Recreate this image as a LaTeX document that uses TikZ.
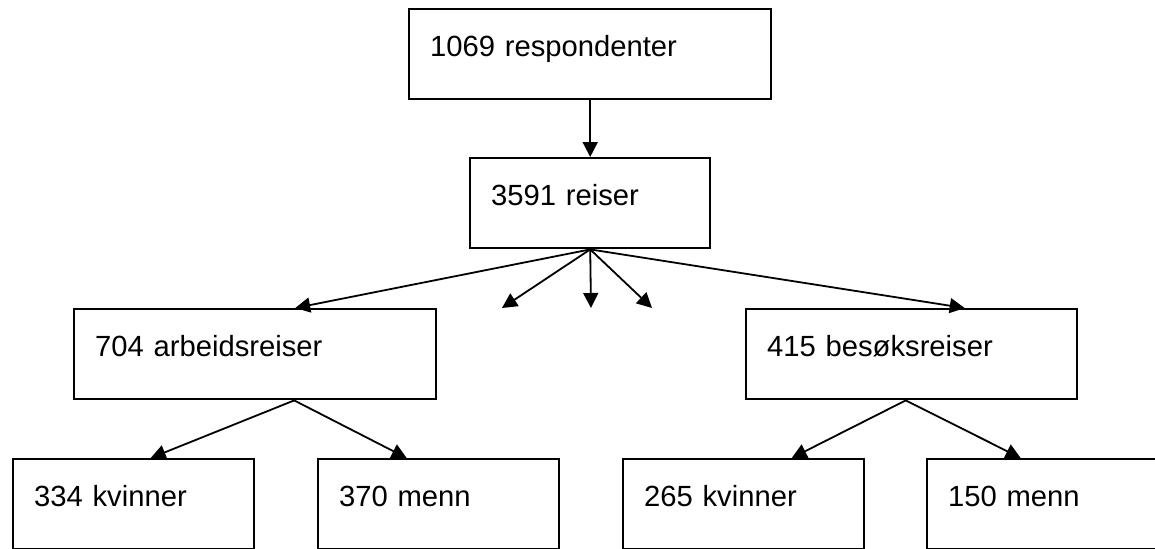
\documentclass[tikz,border=0pt]{standalone}
\usepackage{fontspec}
\setmainfont{Liberation Sans}
\usepackage{tikz}
\usetikzlibrary{arrows.meta, calc}
\tikzset{
    box/.style={draw=black, line width=1.2pt, anchor=north west, inner xsep=10.5pt, inner ysep=0pt,
        text height=23.5pt, text depth=21.5pt, align=left, font=\fontsize{14.6}{17}\selectfont},
    flow/.style={line width=0.9pt, -{Triangle[length=7.5pt, width=7.5pt]}}
}

\begin{document}
\begin{tikzpicture}[x=0.5pt, y=-0.5pt]
    \clip (0,0) rectangle (1155,548);
    % top of the tree
    \node[box, text width=160pt] (resp) at (408,8) {1069 respondenter};
    \node[box, text width=99pt] (reiser) at (469,157) {3591 reiser};
    \draw[flow] (resp.south) -- (reiser.north);
    % second level
    \node[box, text width=160pt] (arbeid) at (73,308) {704 arbeidsreiser};
    \node[box, text width=144.5pt] (besok) at (745,308) {415 besøksreiser};
    \draw[flow] (reiser.south) -- ($(arbeid.north)+(40,0)$);
    \draw[flow] (reiser.south) -- ($(besok.north)+(53,0)$);
    \coordinate (s1) at (502,308); \coordinate (s2) at (591,308); \coordinate (s3) at (652,308);
    \draw[flow] (reiser.south) -- (s1);
    \draw[flow] (reiser.south) -- (s2);
    \draw[flow] (reiser.south) -- (s3);
    % bottom level
    \node[box, text width=99.5pt] (kv1) at (12,458) {334 kvinner};
    \node[box, text width=99.5pt] (me1) at (317,458) {370 menn};
    \node[box, text width=99.5pt] (kv2) at (622,458) {265 kvinner};
    \node[box, text width=99.5pt] (me2) at (926,458) {150 menn};
    \draw[flow] ($(arbeid.south)+(39,0)$) -- ($(kv1.north)+(17,0)$);
    \draw[flow] ($(arbeid.south)+(39,0)$) -- ($(me1.north)+(-32,0)$);
    \draw[flow] ($(besok.south)+(-6,0)$) -- ($(kv2.north)+(48,0)$);
    \draw[flow] ($(besok.south)+(-6,0)$) -- ($(me2.north)+(-27,0)$);
\end{tikzpicture}
\end{document}
